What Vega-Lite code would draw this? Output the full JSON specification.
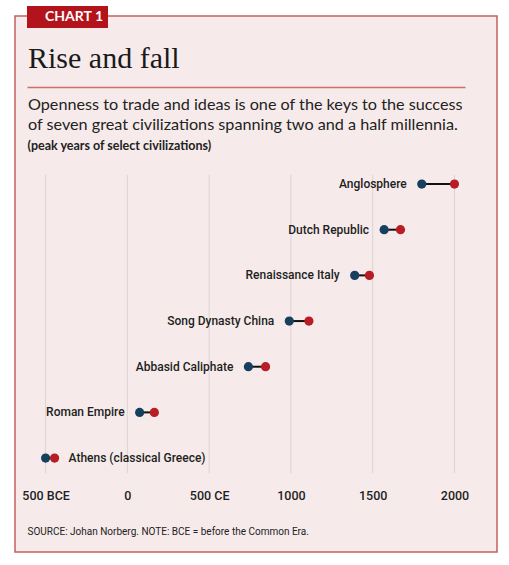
{
  "$schema": "https://vega.github.io/schema/vega-lite/v6.json",
  "width": 482,
  "height": 536,
  "autosize": {"type": "none"},
  "padding": {"left": 15, "top": 16, "right": 12, "bottom": 13},
  "background": "#ffffff",
  "config": {
    "view": {"fill": "#f6ebea", "stroke": "#c4625f", "strokeWidth": 1.5}
  },
  "title": {
    "text": "Rise and fall",
    "subtitle": [
      "Openness to trade and ideas is one of the keys to the success",
      "of seven great civilizations spanning two and a half millennia."
    ],
    "anchor": "start",
    "frame": "group",
    "orient": "top",
    "offset": -127,
    "dx": 13,
    "font": "Liberation Serif",
    "fontSize": 30,
    "fontWeight": "normal",
    "color": "#1a1a1a",
    "subtitleFont": "Lato",
    "subtitleFontSize": 16.2,
    "subtitleColor": "#222222",
    "subtitleLineHeight": 20,
    "subtitlePadding": 23
  },
  "datasets": {
    "peaks": [
      {"civ": "Anglosphere", "start": 1800, "end": 2000},
      {"civ": "Dutch Republic", "start": 1570, "end": 1670},
      {"civ": "Renaissance Italy", "start": 1390, "end": 1480},
      {"civ": "Song Dynasty China", "start": 990, "end": 1110},
      {"civ": "Abbasid Caliphate", "start": 740, "end": 845},
      {"civ": "Roman Empire", "start": 75, "end": 165},
      {"civ": "Athens (classical Greece)", "start": -500, "end": -445}
    ],
    "ticks": [
      {"year": -500}, {"year": 0}, {"year": 500},
      {"year": 1000}, {"year": 1500}, {"year": 2000}
    ]
  },
  "layer": [
    {
      "data": {"name": "ticks"},
      "mark": {"type": "rule", "strokeWidth": 1},
      "encoding": {
        "x": {
          "field": "year",
          "type": "quantitative",
          "scale": {"domain": [-687, 2260], "nice": false, "zero": false},
          "axis": {
            "orient": "bottom",
            "offset": -65,
            "values": [-500, 0, 500, 1000, 1500, 2000],
            "labelExpr": "datum.value < 0 ? (-datum.value) + ' BCE' : datum.value == 500 ? '500 CE' : '' + datum.value",
            "domain": false,
            "ticks": false,
            "grid": false,
            "labelOverlap": false,
            "labelFlush": false,
            "labelPadding": 2,
            "labelBaseline": "top",
            "labelFont": "Roboto",
            "labelFontSize": 12.5,
            "labelFontWeight": 500,
            "labelColor": "#1e1e1e",
            "title": "SOURCE: Johan Norberg. NOTE: BCE = before the Common Era.",
            "titleX": 12,
            "titleY": 47,
            "titleAnchor": "start",
            "titleAlign": "left",
            "titleAngle": 0,
            "titleBaseline": "alphabetic",
            "titleFont": "Roboto",
            "titleFontSize": 10,
            "titleFontWeight": "normal",
            "titleColor": "#222222"
          }
        },
        "y": {
          "datum": "Anglosphere",
          "type": "nominal",
          "bandPosition": 0.3,
          "scale": {
            "type": "band",
            "domain": [
              "Anglosphere", "Dutch Republic", "Renaissance Italy",
              "Song Dynasty China", "Abbasid Caliphate", "Roman Empire",
              "Athens (classical Greece)"
            ],
            "range": [145.2, 464.9],
            "paddingInner": 0,
            "paddingOuter": 0
          },
          "axis": null
        },
        "y2": {"datum": "Athens (classical Greece)", "bandPosition": 0.83},
        "color": {
          "datum": "CHART 1",
          "type": "nominal",
          "scale": {"range": ["#dcd4d2"]},
          "legend": {
            "orient": "none",
            "legendX": 12,
            "legendY": -10,
            "title": null,
            "fillColor": "#b3141c",
            "padding": 4,
            "symbolSize": 0,
            "symbolOpacity": 0,
            "symbolStrokeWidth": 0,
            "labelOffset": 0,
            "labelColor": "#ffffff",
            "labelFont": "Lato",
            "labelFontSize": 14,
            "labelFontWeight": "bold",
            "labelLimit": 200
          }
        }
      }
    },
    {
      "data": {"name": "peaks"},
      "mark": {"type": "rule", "color": "#111111", "strokeWidth": 2},
      "encoding": {
        "x": {
          "field": "start",
          "type": "quantitative",
          "axis": {
            "orient": "top",
            "offset": -71,
            "domain": true,
            "domainColor": "#c8706c",
            "domainWidth": 1.5,
            "domainDash": [0, 12, 438, 200],
            "ticks": false,
            "labels": false,
            "grid": false,
            "title": "(peak years of select civilizations)",
            "titleX": 12,
            "titleY": 62,
            "titleAnchor": "start",
            "titleAlign": "left",
            "titleAngle": 0,
            "titleBaseline": "alphabetic",
            "titleFont": "Lato",
            "titleFontSize": 12.5,
            "titleFontWeight": "bold",
            "titleColor": "#222222"
          }
        },
        "x2": {"field": "end"},
        "y": {"field": "civ", "type": "nominal", "axis": null}
      }
    },
    {
      "data": {"name": "peaks"},
      "mark": {"type": "circle", "color": "#17405f", "opacity": 1, "size": 85},
      "encoding": {
        "x": {"field": "start", "type": "quantitative", "axis": null},
        "y": {"field": "civ", "type": "nominal", "axis": null}
      }
    },
    {
      "data": {"name": "peaks"},
      "mark": {"type": "circle", "color": "#b81c24", "opacity": 1, "size": 85},
      "encoding": {
        "x": {"field": "end", "type": "quantitative", "axis": null},
        "y": {"field": "civ", "type": "nominal", "axis": null}
      }
    },
    {
      "data": {"name": "peaks"},
      "transform": [{"filter": "datum.civ != 'Athens (classical Greece)'"}],
      "mark": {
        "type": "text",
        "align": "right",
        "baseline": "middle",
        "dx": -15,
        "font": "Roboto",
        "fontSize": 12,
        "fontWeight": 500,
        "color": "#1e1e1e"
      },
      "encoding": {
        "x": {"field": "start", "type": "quantitative", "axis": null},
        "y": {"field": "civ", "type": "nominal", "axis": null},
        "text": {"field": "civ"}
      }
    },
    {
      "data": {"name": "peaks"},
      "transform": [{"filter": "datum.civ == 'Athens (classical Greece)'"}],
      "mark": {
        "type": "text",
        "align": "left",
        "baseline": "middle",
        "dx": 14,
        "font": "Roboto",
        "fontSize": 12,
        "fontWeight": 500,
        "color": "#1e1e1e"
      },
      "encoding": {
        "x": {"field": "end", "type": "quantitative", "axis": null},
        "y": {"field": "civ", "type": "nominal", "axis": null},
        "text": {"field": "civ"}
      }
    }
  ],
  "resolve": {"axis": {"x": "independent"}}
}
